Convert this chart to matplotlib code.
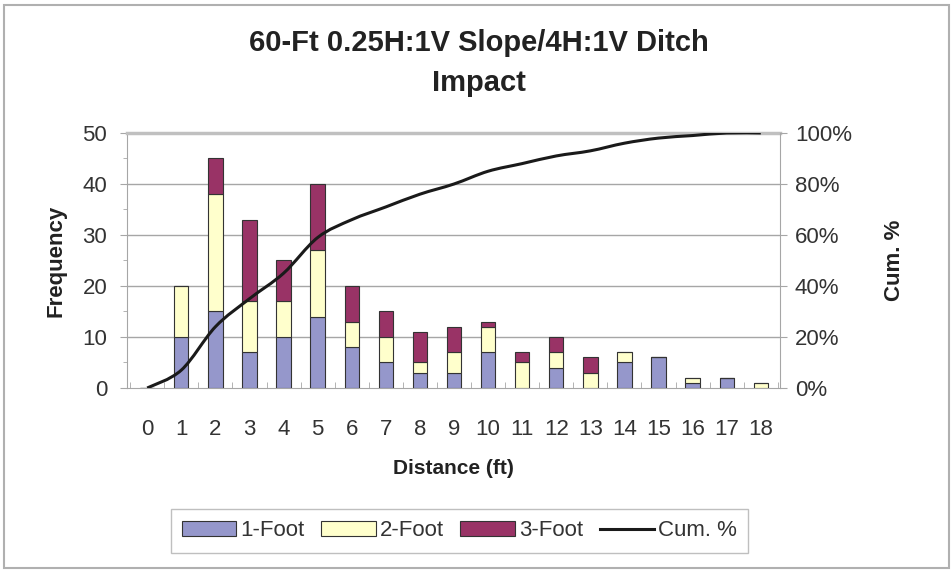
import matplotlib
matplotlib.use("Agg")
import matplotlib.pyplot as plt
import numpy as np
from matplotlib.path import Path
from matplotlib.patches import PathPatch, Rectangle
from matplotlib.lines import Line2D
from matplotlib.ticker import FuncFormatter, MultipleLocator

plt.rcParams['font.family'] = ['Liberation Sans', 'DejaVu Sans']

distance = list(range(19))
foot1 = [0, 10, 15, 7, 10, 14, 8, 5, 3, 3, 7, 0, 4, 0, 5, 6, 1, 2, 0]
foot2 = [0, 10, 23, 10, 7, 13, 5, 5, 2, 4, 5, 5, 3, 3, 2, 0, 1, 0, 1]
foot3 = [0, 0, 7, 16, 8, 13, 7, 5, 6, 5, 1, 2, 3, 3, 0, 0, 0, 0, 0]
cum_pct = [0, 7, 24, 35, 45, 59, 66, 71, 76, 80, 85, 88, 91, 93, 96, 98, 99, 100, 100]

c1 = '#9597cb'
c2 = '#ffffcc'
c3 = '#993366'
edge = '#333333'
grid_c = '#a6a6a6'
txt_c = '#333333'
FS = 16

fig = plt.figure(figsize=(9.53, 5.72), dpi=100)
fig.patches.append(Rectangle((0.004, 0.007), 0.992, 0.985, transform=fig.transFigure,
                             fill=False, edgecolor='#b0b0b0', lw=1.5))

ax = fig.add_axes([0.133, 0.3217, 0.685, 0.4458])
x = np.array(distance)
w = 0.42
b1 = np.array(foot1)
b2 = np.array(foot2)
b3 = np.array(foot3)
ax.bar(x, b1, w, color=c1, edgecolor=edge, lw=0.8, label='1-Foot', zorder=3)
ax.bar(x, b2, w, bottom=b1, color=c2, edgecolor=edge, lw=0.8, label='2-Foot', zorder=3)
ax.bar(x, b3, w, bottom=b1 + b2, color=c3, edgecolor=edge, lw=0.8, label='3-Foot', zorder=3)

ax.set_xlim(-0.6, 18.55)
ax.set_ylim(0, 50)
ax.set_yticks(range(0, 51, 10))
ax.yaxis.set_minor_locator(MultipleLocator(5))
ax.set_xticks(x)
ax.set_xticks(np.arange(-0.5, 18.6, 1), minor=True)
ax.tick_params(axis='x', which='major', length=0, labelsize=FS, pad=22, colors=txt_c)
ax.tick_params(axis='x', which='minor', length=4, direction='in', color=grid_c)
ax.tick_params(axis='y', which='major', length=5, labelsize=FS, pad=9, color=grid_c, labelcolor=txt_c)
ax.tick_params(axis='y', which='minor', length=3, color=grid_c)
for v in range(10, 50, 10):
    ax.axhline(v, color=grid_c, lw=1, zorder=1)
for s in ax.spines.values():
    s.set_color(grid_c)
ax.spines['top'].set_linewidth(2.5)
ax.spines['top'].set_color('#c0c0c0')
ax.spines['right'].set_visible(False)

ax.set_ylabel('Frequency', fontsize=FS, fontweight='bold', color='#222222')
ax.yaxis.set_label_coords(-0.093, 0.5)
ax.set_xlabel('Distance (ft)', fontsize=FS - 1, fontweight='bold', color='#222222')
ax.xaxis.set_label_coords(0.5, -0.278)

ax2 = ax.twinx()
ax2.set_ylim(0, 100)
ax2.set_yticks(range(0, 101, 20))
ax2.yaxis.set_major_formatter(FuncFormatter(lambda v, p: f'{int(v)}%'))
ax2.tick_params(axis='y', length=5, labelsize=FS, pad=6, color=grid_c, labelcolor=txt_c)
for s in ax2.spines.values():
    s.set_visible(False)
ax2.spines['right'].set_visible(True)
ax2.spines['right'].set_color(grid_c)
ax2.set_ylabel('Cum. %', fontsize=FS, fontweight='bold', color='#222222')
ax2.yaxis.set_label_coords(1.16, 0.5)

# smoothed cumulative line (Catmull-Rom -> Bezier)
px = np.array(distance, dtype=float)
py = np.array(cum_pct, dtype=float)
verts = [(px[0], py[0])]
codes = [Path.MOVETO]
n = len(px)
for i in range(n - 1):
    p0 = (px[max(i - 1, 0)], py[max(i - 1, 0)])
    p1 = (px[i], py[i])
    p2 = (px[i + 1], py[i + 1])
    p3 = (px[min(i + 2, n - 1)], py[min(i + 2, n - 1)])
    cA = (p1[0] + (p2[0] - p0[0]) / 6, p1[1] + (p2[1] - p0[1]) / 6)
    cB = (p2[0] - (p3[0] - p1[0]) / 6, p2[1] - (p3[1] - p1[1]) / 6)
    verts += [cA, cB, p2]
    codes += [Path.CURVE4] * 3
ax2.add_patch(PathPatch(Path(verts, codes), fill=False, edgecolor='#1a1a1a', lw=2.2, zorder=5))

fig.text(0.503, 0.925, '60-Ft 0.25H:1V Slope/4H:1V Ditch', ha='center', va='center',
         fontsize=21, fontweight='bold', color='#222222')
fig.text(0.503, 0.855, 'Impact', ha='center', va='center',
         fontsize=21, fontweight='bold', color='#222222')

handles = [Rectangle((0, 0), 1, 1, facecolor=c1, edgecolor=edge, lw=0.8),
           Rectangle((0, 0), 1, 1, facecolor=c2, edgecolor=edge, lw=0.8),
           Rectangle((0, 0), 1, 1, facecolor=c3, edgecolor=edge, lw=0.8),
           Line2D([0], [0], color='#1a1a1a', lw=2.2)]
leg = fig.legend(handles, ['1-Foot', '2-Foot', '3-Foot', 'Cum. %'], loc='center',
                 bbox_to_anchor=(0.482, 0.0717), ncol=4, frameon=True, fancybox=False,
                 fontsize=FS, handlelength=2.45, handleheight=0.7, handletextpad=0.18,
                 columnspacing=0.75, borderpad=0.5)
leg.get_frame().set_edgecolor('#b0b0b0')
leg.get_frame().set_linewidth(1)
for t in leg.get_texts():
    t.set_color(txt_c)

fig.savefig('out.png', dpi=100)
